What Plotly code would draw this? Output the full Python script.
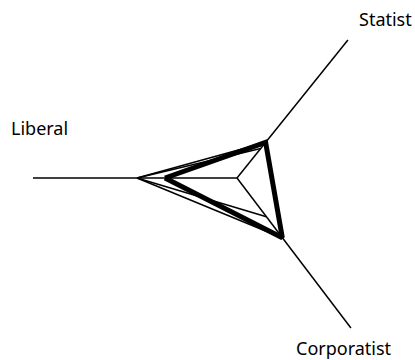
import math
import plotly.graph_objects as go

# Axis names (clockwise from left)
axes = ["Liberal", "Statist", "Corporatist"]

# Scores on each axis as a fraction of the axis length
series_a = [0.49, 0.258, 0.40]   # thin, closed
series_b = [0.49, 0.214, 0.258]  # thin, open path
series_mean = [0.353, 0.258, 0.398]  # thick, closed

# Layout geometry of the axes (degrees, pixel-equivalent lengths)
axis_angle = [180.0, 51.2, -52.8]
axis_len = [204.0, 177.0, 188.4]


def to_xy(values, order, close):
    xs, ys = [], []
    for i in order:
        a = math.radians(axis_angle[i])
        xs.append(values[i] * axis_len[i] * math.cos(a))
        ys.append(values[i] * axis_len[i] * math.sin(a))
    if close:
        xs.append(xs[0])
        ys.append(ys[0])
    return xs, ys


fig = go.Figure()

# axis spokes
for i in range(3):
    a = math.radians(axis_angle[i])
    fig.add_trace(go.Scatter(
        x=[0, axis_len[i] * math.cos(a)], y=[0, axis_len[i] * math.sin(a)],
        mode="lines", line=dict(color="black", width=1.5), hoverinfo="skip"))

xa, ya = to_xy(series_a, [0, 1, 2], True)
fig.add_trace(go.Scatter(x=xa, y=ya, mode="lines",
                         line=dict(color="black", width=1.5)))
xb, yb = to_xy(series_b, [1, 0, 2], False)
fig.add_trace(go.Scatter(x=xb, y=yb, mode="lines",
                         line=dict(color="black", width=1.5)))
xm, ym = to_xy(series_mean, [0, 1, 2], True)
fig.add_trace(go.Scatter(x=xm, y=ym, mode="lines",
                         line=dict(color="black", width=5)))

label_pos = [(-198, 50), (148, 159), (107, -170)]
for name, (lx, ly) in zip(axes, label_pos):
    fig.add_annotation(x=lx, y=ly, text=name, showarrow=False,
                       font=dict(family="Noto Sans", size=18, color="black"))

fig.update_layout(
    width=415, height=360, margin=dict(l=0, r=0, t=0, b=0),
    showlegend=False, plot_bgcolor="white", paper_bgcolor="white",
    xaxis=dict(range=[-237, 178], visible=False, fixedrange=True),
    yaxis=dict(range=[-182, 178], visible=False, fixedrange=True),
)

fig.write_html(
    "out.html",
    config={"staticPlot": True},
    post_script="document.body.style.margin='0';document.body.style.overflow='hidden';",
)
